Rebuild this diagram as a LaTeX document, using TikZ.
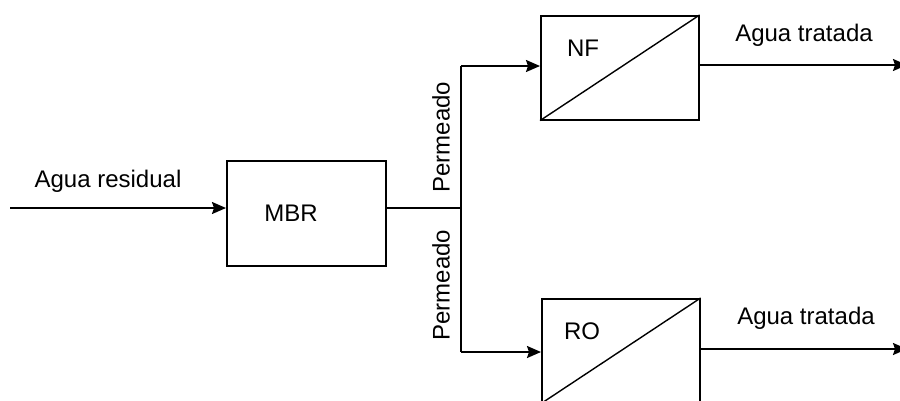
\documentclass[tikz,border=0pt]{standalone}
\usepackage{fontspec}
\setmainfont{Liberation Sans}
\usetikzlibrary{arrows.meta}
\begin{document}
\begin{tikzpicture}[x=1pt,y=-1pt,
  box/.style={draw, line width=1.6pt, minimum width=158pt, minimum height=104pt, inner sep=0pt, anchor=north west},
  flow/.style={line width=1.8pt, -{Stealth[length=14pt,width=12pt,inset=2pt]}},
  pipe/.style={line width=1.8pt},
  lbl/.style={font=\fontsize{24}{28}\selectfont, inner sep=0pt}
]
\useasboundingbox (0,0) rectangle (900,400);
\clip (0,0) rectangle (900,400);
\fill[white] (0,0) rectangle (900,400);
% boxes
\node[box, minimum width=159pt, minimum height=105pt] (mbr) at (226,160) {};
\node[box] (nf) at (540,15) {};
\node[box] (ro) at (541,298) {};
\draw[line width=1.4pt] (nf.south west) -- (nf.north east);
\draw[line width=1.4pt] (ro.south west) -- (ro.north east);
% labels in boxes
\node[lbl] (tmbr) at (291,213) {MBR};
\node[lbl] (tnf) at (583,48) {NF};
\node[lbl] (tro) at (582,331) {RO};
% coordinates
\coordinate (in) at (10,208);
\coordinate (j) at (461,208);
\coordinate (jt) at (461,66);
\coordinate (jb) at (461,352);
\coordinate (outnf) at (907,65);
\coordinate (outro) at (907,349);
% connectors
\draw[flow] (in) -- (in -| mbr.west);
\draw[pipe] (j -| mbr.east) -- (j);
\draw[pipe] (jt) -- (jb);
\draw[flow] (jt) -- (jt -| nf.west);
\draw[flow] (jb) -- (jb -| ro.west);
\draw[flow] (outnf -| nf.east) -- (outnf);
\draw[flow] (outro -| ro.east) -- (outro);
% texts
\node[lbl] (tin) at (108,181) {Agua residual};
\node[lbl, rotate=90] (tp1) at (441,137) {Permeado};
\node[lbl, rotate=90] (tp2) at (441,285) {Permeado};
\node[lbl] (to1) at (804,35) {Agua tratada};
\node[lbl] (to2) at (806,318) {Agua tratada};
\end{tikzpicture}
\end{document}
